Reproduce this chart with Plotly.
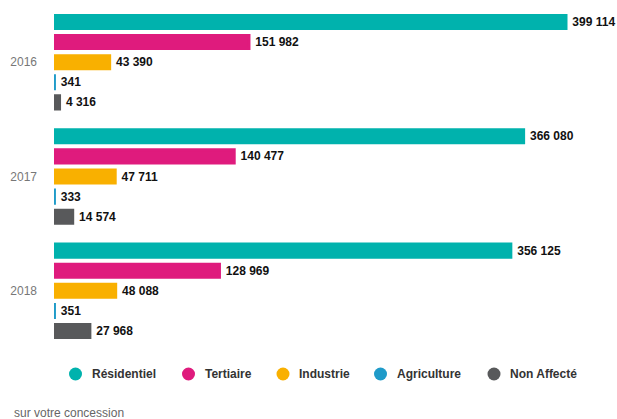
import plotly.graph_objects as go

years = ["2016", "2017", "2018"]
sectors = ["Résidentiel", "Tertiaire", "Industrie", "Agriculture", "Non Affecté"]
colors = ["#00b2ad", "#df1b7d", "#f9b000", "#1f9bc9", "#58595b"]

residentiel = [399114, 366080, 356125]
tertiaire = [151982, 140477, 128969]
industrie = [43390, 47711, 48088]
agriculture = [341, 333, 351]
non_affecte = [4316, 14574, 27968]

series = [residentiel, tertiaire, industrie, agriculture, non_affecte]

# plot area geometry (px) used to place the legend row and footer
L, T, B, W, H = 54, 5, 71, 617, 419
pw, ph = W - L, H - T - B

def px_x(x):
    return (x - L) / pw

def px_y(y):
    return (H - B - y) / ph

fig = go.Figure()
for name, vals, col in zip(sectors, series, colors):
    fig.add_trace(go.Bar(
        y=years, x=vals, orientation="h", name=name,
        marker=dict(color=col, line=dict(color=col, width=3)),
        texttemplate="\u00a0<b>%{x:,.0f}</b>", textposition="outside", cliponaxis=False,
        textfont=dict(family="Liberation Sans, Arial, sans-serif", size=12, color="#111"),
        showlegend=False, hoverinfo="skip",
    ))

# legend row: coloured dots followed by labels
legend_dot_x = [75.5, 188.5, 283, 380.5, 494]
legend_y = 374
shapes, annotations = [], []
for name, col, cx in zip(sectors, colors, legend_dot_x):
    shapes.append(dict(
        type="circle", xref="paper", yref="paper",
        xsizemode="pixel", ysizemode="pixel",
        xanchor=px_x(cx), yanchor=px_y(legend_y),
        x0=-6.5, x1=6.5, y0=-6.5, y1=6.5,
        fillcolor=col, line=dict(width=0),
    ))
    annotations.append(dict(
        text="<b>" + name + "</b>", xref="paper", yref="paper",
        x=px_x(cx + 14), y=px_y(legend_y), xanchor="left", yanchor="middle",
        showarrow=False, font=dict(size=12, color="#333"),
    ))

annotations.append(dict(
    text="sur votre concession", xref="paper", yref="paper",
    x=px_x(12), y=px_y(413), xanchor="left", yanchor="middle", showarrow=False,
    font=dict(size=12, color="#666"),
))

fig.update_layout(
    width=W, height=H,
    margin=dict(l=L, r=0, t=T, b=B),
    paper_bgcolor="white", plot_bgcolor="white",
    barmode="group", bargap=0.12, bargroupgap=0.35,
    separators=", ",
    showlegend=False,
    uniformtext=dict(minsize=12, mode="show"),
    font=dict(family="Liberation Sans, Arial, sans-serif", color="#333"),
    xaxis=dict(range=[0, 438870], visible=False, fixedrange=True),
    yaxis=dict(autorange="reversed", showgrid=False, zeroline=False, showline=False,
               ticks="", ticklabelstandoff=16,
               tickfont=dict(size=12, color="#777"), fixedrange=True),
    shapes=shapes,
    annotations=annotations,
)

fig.write_html("out.html")
